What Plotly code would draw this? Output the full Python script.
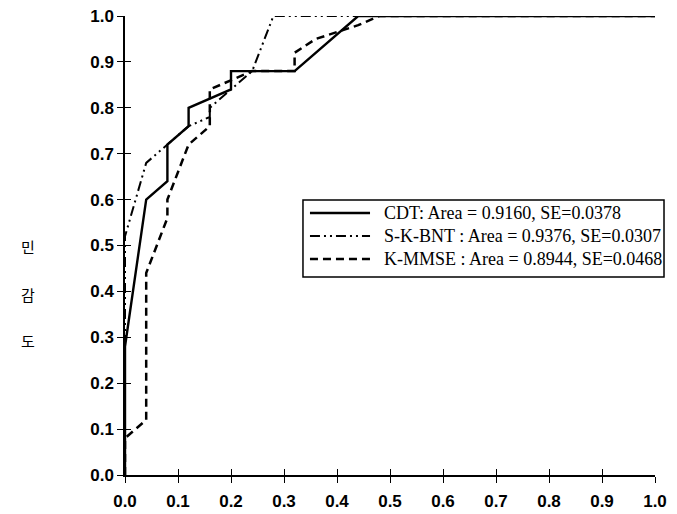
import plotly.graph_objects as go

# ROC data (1 - specificity, sensitivity)
cdt_x = [0.0, 0.0, 0.04, 0.08, 0.08, 0.12, 0.12, 0.20, 0.20, 0.32, 0.44, 1.0]
cdt_y = [0.0, 0.28, 0.60, 0.64, 0.72, 0.76, 0.80, 0.84, 0.88, 0.88, 1.0, 1.0]

bnt_x = [0.0, 0.0, 0.04, 0.08, 0.12, 0.16, 0.16, 0.20, 0.24, 0.28, 1.0]
bnt_y = [0.0, 0.52, 0.68, 0.72, 0.76, 0.78, 0.80, 0.84, 0.88, 1.0, 1.0]

mmse_x = [0.0, 0.0, 0.04, 0.04, 0.08, 0.08, 0.12, 0.16, 0.16, 0.24, 0.32, 0.32, 0.36, 0.44, 0.48, 1.0]
mmse_y = [0.0, 0.08, 0.12, 0.44, 0.56, 0.60, 0.72, 0.76, 0.84, 0.88, 0.88, 0.92, 0.95, 0.98, 1.0, 1.0]

names = [
    "CDT: Area = 0.9160, SE=0.0378",
    "S-K-BNT : Area = 0.9376, SE=0.0307",
    "K-MMSE : Area = 0.8944, SE=0.0468",
]
tick_vals = [0.0, 0.1, 0.2, 0.3, 0.4, 0.5, 0.6, 0.7, 0.8, 0.9, 1.0]
tick_text = ["0.0", "0.1", "0.2", "0.3", "0.4", "0.5", "0.6", "0.7", "0.8", "0.9", "1.0"]
y_label_chars = ["민", "감", "도"]

styles = [
    dict(color="black", width=2.4),
    dict(color="black", width=2, dash="10px,4px,2px,4px,2px,4px"),
    dict(color="black", width=2.5, dash="8px,5px"),
]
series = [(cdt_x, cdt_y), (bnt_x, bnt_y), (mmse_x, mmse_y)]

fig = go.Figure()
for (xs, ys), nm, st in zip(series, names, styles):
    fig.add_trace(go.Scatter(x=xs, y=ys, mode="lines", name=nm, line=st, showlegend=False))
# dummy trace so the overlay axes (inner tick halves) render
fig.add_trace(go.Scatter(x=[0], y=[0], xaxis="x2", yaxis="y2", mode="markers",
                         marker=dict(opacity=0), showlegend=False, hoverinfo="skip"))

tickfont = dict(family="Liberation Sans, Arial", size=17, color="black")
fig.update_layout(
    width=677, height=514,
    margin=dict(l=117, r=30, t=8, b=47, autoexpand=False),
    paper_bgcolor="white", plot_bgcolor="white",
    xaxis=dict(range=[0, 1], tickvals=tick_vals, ticktext=["<b>%s</b>" % t for t in tick_text],
               showgrid=False, zeroline=False, showline=True, linecolor="black", linewidth=1.5,
               ticks="outside", ticklen=6, tickwidth=1.3, tickcolor="black", tickfont=tickfont,
               automargin=False, ticklabelstandoff=4, ticklabeloverflow="allow"),
    yaxis=dict(range=[0, 1], tickvals=tick_vals, ticktext=["<b>%s</b>" % t for t in tick_text],
               showgrid=False, zeroline=False, showline=True, linecolor="black", linewidth=1.5,
               ticks="outside", ticklen=6, tickwidth=1.3, tickcolor="black", tickfont=tickfont,
               automargin=False, ticklabeloverflow="allow"),
    xaxis2=dict(range=[0, 1], tickvals=tick_vals, overlaying="x", anchor="y", side="bottom",
                showticklabels=False, showgrid=False, zeroline=False, showline=False,
                ticks="inside", ticklen=6, tickwidth=1.3, tickcolor="black", automargin=False),
    yaxis2=dict(range=[0, 1], tickvals=tick_vals, overlaying="y", anchor="x", side="left",
                showticklabels=False, showgrid=False, zeroline=False, showline=False,
                ticks="inside", ticklen=6, tickwidth=1.3, tickcolor="black", automargin=False),
    showlegend=False,
)

# legend box drawn manually (paper coordinates)
fig.add_shape(type="rect", xref="paper", yref="paper", x0=0.3358, x1=1.017, y0=0.4314, y1=0.599,
              line=dict(color="black", width=1.5), fillcolor="white", layer="above")
for nm, st, yp in zip(names, styles, [0.5708, 0.5207, 0.4706]):
    fig.add_shape(type="line", xref="paper", yref="paper", x0=0.349, x1=0.4623, y0=yp, y1=yp,
                  line=st, layer="above")
    fig.add_annotation(text=nm, xref="paper", yref="paper", x=0.4849, y=yp,
                       xanchor="left", yanchor="middle", showarrow=False,
                       font=dict(family="Liberation Serif, Times New Roman", size=18, color="black"))

for ch, yp in zip(y_label_chars, [0.497, 0.394, 0.292]):
    fig.add_annotation(text=ch, xref="paper", yref="paper", x=-0.183, y=yp,
                       xanchor="center", yanchor="middle", showarrow=False,
                       font=dict(family="Noto Sans CJK KR", size=15, color="black"))

fig.write_html("out.html")
